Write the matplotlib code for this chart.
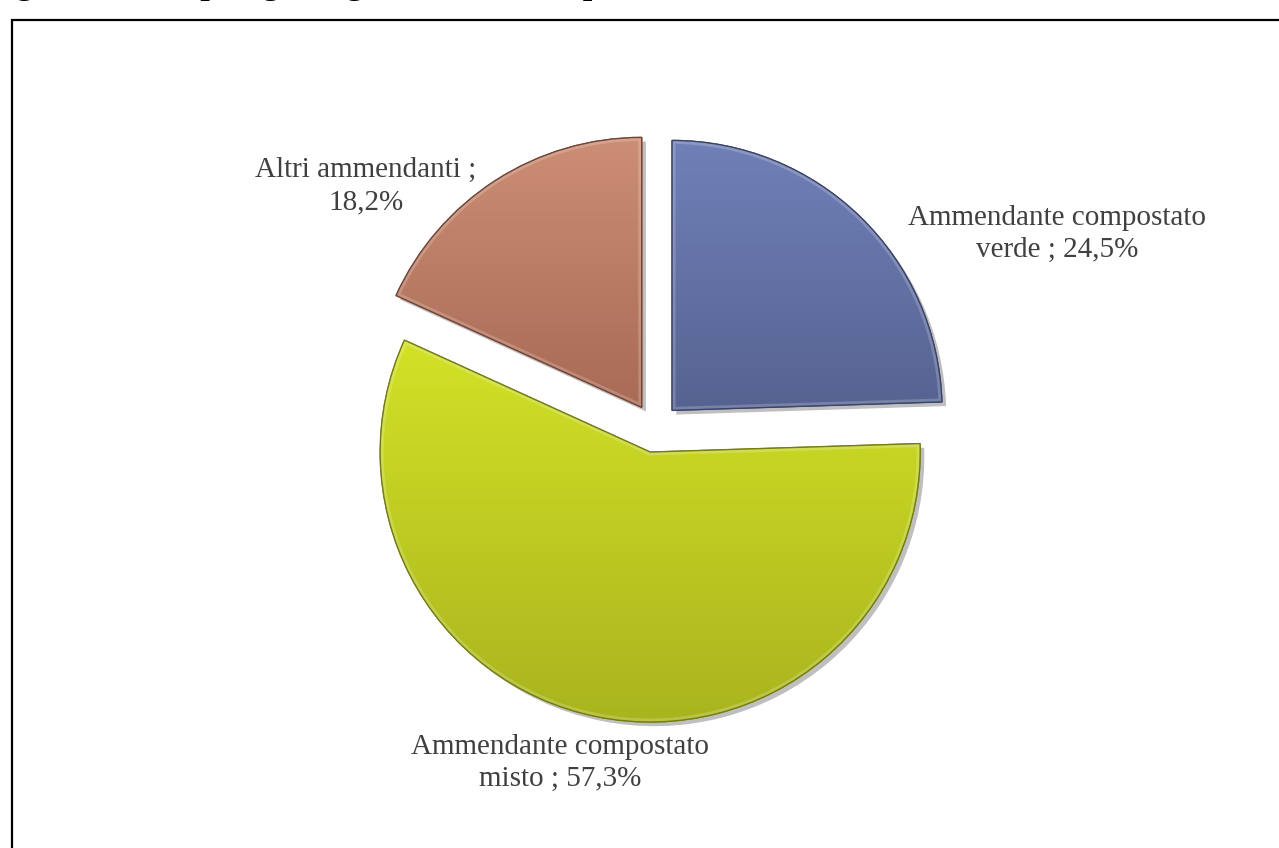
import numpy as np
import matplotlib
matplotlib.use("Agg")
import matplotlib.pyplot as plt
from matplotlib.patches import Rectangle, PathPatch
from matplotlib import patheffects as pe
from matplotlib.colors import LinearSegmentedColormap

# ---- data ----
categories = ["Ammendante compostato verde", "Ammendante compostato misto", "Altri ammendanti"]
values = [24.5, 57.3, 18.2]
label_texts = ["Ammendante compostato\nverde ; 24,5%",
               "Ammendante compostato\nmisto ; 57,3%",
               "Altri ammendanti ;\n18,2%"]
title = "Figura 3.4 \u2013 Tipologie degli ammendanti prodotti dal trattamento aerobico, anno 2011"

# ---- style ----
top_colors = ["#7080b8", "#d2e226", "#cc8e74"]
bot_colors = ["#566391", "#a9b41e", "#a96a56"]
base_colors = ["#6272a4", "#c2cf22", "#bb7c66"]
edge_colors = ["#3a4368", "#737d12", "#744536"]

W, H = 1279, 848
fig = plt.figure(figsize=(W / 100, H / 100), dpi=100)
ax = fig.add_axes([0, 0, 1, 1])

center = (655, H - 428)
radius = 270
offset = 24.5  # explode distance (data units = pixels)
wedges, _ = ax.pie(values, startangle=90, counterclock=False, explode=[offset] * 3,
                   colors=base_colors, center=center, radius=radius,
                   wedgeprops=dict(linewidth=0.8))
for w, ec in zip(wedges, edge_colors):
    w.set_edgecolor(ec)
    w.set_path_effects([pe.SimplePatchShadow(offset=(3, -3), shadow_rgbFace="#000000", alpha=0.25),
                        pe.Normal()])

# gradient fills clipped to wedges
for w, tc, bc in zip(wedges, top_colors, bot_colors):
    cmap = LinearSegmentedColormap.from_list("g", [bc, tc])
    path = w.get_path()
    verts = w.get_patch_transform().transform(path.vertices)
    x0, y0 = verts.min(axis=0)
    x1, y1 = verts.max(axis=0)
    grad = np.linspace(0, 1, 256).reshape(-1, 1)
    im = ax.imshow(grad, cmap=cmap, origin="lower", extent=(x0, x1, y0, y1),
                   aspect="auto", zorder=w.get_zorder() + 0.1, interpolation="bilinear")
    im.set_clip_path(w)
    rim = PathPatch(w.get_path(), transform=w.get_transform(),
                    fill=False, edgecolor="white", linewidth=5, alpha=0.2,
                    zorder=w.get_zorder() + 0.2)
    ax.add_patch(rim)
    rim.set_clip_path(w)
    edge = PathPatch(w.get_path(), transform=w.get_transform(),
                     fill=False, edgecolor=w.get_edgecolor(), linewidth=1.0,
                     zorder=w.get_zorder() + 0.3)
    ax.add_patch(edge)

ax.set_xlim(0, W)
ax.set_ylim(0, H)
ax.set_aspect("equal")
ax.axis("off")

# labels
lab_pos = [(1057, H - 234), (560, H - 763), (366, H - 186)]
for (lx, ly), t in zip(lab_pos, label_texts):
    ax.text(lx, ly, t, ha="center", va="center", fontsize=21,
            family="Liberation Serif", color="#404040", linespacing=1.3)

# frame
fig.patches.append(Rectangle((12 / W, -0.05), 1.1, (H - 20) / H + 0.05, transform=fig.transFigure,
                             fill=False, edgecolor="black", linewidth=1.6))

# title (clipped by the top edge, as in the source page)
fig.text(-14 / W, 1 + 6 / H, title, ha="left", va="baseline", fontsize=24.5,
         family="Liberation Serif", weight="bold", color="black")

fig.savefig("out.png", dpi=100)
